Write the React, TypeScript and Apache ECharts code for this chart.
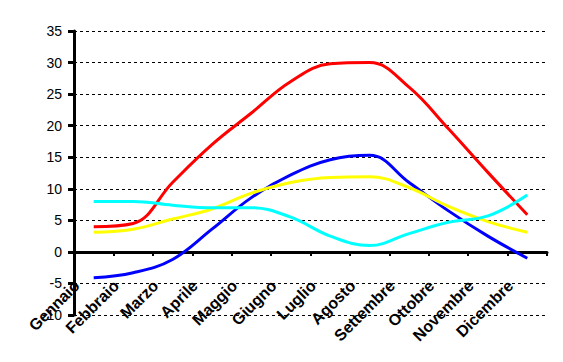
import React, { useEffect, useRef } from "react";
import * as echarts from "echarts";

const months = ["Gennaio", "Febbraio", "Marzo", "Aprile", "Maggio", "Giugno", "Luglio", "Agosto", "Settembre", "Ottobre", "Novembre", "Dicembre"];
const redSeries = [4.0, 4.5, 11.0, 17.0, 22.0, 27.0, 29.8, 30.0, 26.1, 19.5, 12.6, 5.9];
const blueSeries = [-4.1, -3.3, -1.2, 3.6, 8.6, 12.2, 14.6, 15.3, 11.0, 6.5, 2.5, -1.0];
const yellowSeries = [3.1, 3.6, 5.2, 6.8, 9.3, 11.0, 11.8, 11.9, 10.2, 7.2, 4.8, 3.1];
const cyanSeries = [8.0, 8.0, 7.4, 7.0, 7.0, 5.5, 2.5, 1.0, 2.9, 4.7, 5.7, 9.0];
const yMin = -10;
const yMax = 35;
const yStep = 5;

export default function App() {
  const ref = useRef<HTMLDivElement>(null);
  useEffect(() => {
    if (!ref.current) return;
    const chart = echarts.init(ref.current, null, { renderer: "svg" });
    const mk = (data: number[], color: string) => ({
      type: "line",
      data,
      smooth: 0.4,
      symbol: "none",
      lineStyle: { color, width: 3 },
      itemStyle: { color },
    });
    const top = 31;
    const bottom = 47;
    const plotH = 362 - top - bottom;
    const zeroOffset = Math.round(((0 - yMin) / (yMax - yMin)) * plotH);
    chart.setOption({
      animation: false,
      backgroundColor: "#ffffff",
      grid: { left: 74, right: 16, top, bottom, outerBoundsMode: "none", containLabel: false },
      xAxis: {
        type: "category",
        data: months,
        boundaryGap: true,
        offset: -zeroOffset,
        axisLine: { onZero: false, lineStyle: { color: "#000", width: 3 } },
        axisTick: { show: true, inside: false, length: 4, lineStyle: { color: "#000", width: 2 } },
        axisLabel: {
          rotate: 45,
          margin: 14,
          padding: [0, 24, 0, 0],
          interval: 0,
          color: "#000",
          fontFamily: "Liberation Sans, Arial, sans-serif",
          fontWeight: "bold",
          fontSize: 16,
        },
        splitLine: { show: false },
      },
      yAxis: {
        type: "value",
        min: yMin,
        max: yMax,
        interval: yStep,
        axisLine: { show: true, lineStyle: { color: "#000", width: 3 } },
        axisTick: { show: true, length: 6, lineStyle: { color: "#000", width: 3 } },
        axisLabel: {
          margin: 12,
          color: "#000",
          fontFamily: "Liberation Sans, Arial, sans-serif",
          fontSize: 14,
        },
        splitLine: { show: true, lineStyle: { color: "#000", type: [3, 3], width: 1 } },
      },
      series: [
        mk(redSeries, "#ff0000"),
        mk(blueSeries, "#0000ff"),
        mk(yellowSeries, "#ffff00"),
        mk(cyanSeries, "#00ffff"),
      ],
    });
    return () => chart.dispose();
  }, []);
  return <div ref={ref} style={{ width: 563, height: 362, position: "absolute", left: 0, top: 0 }} />;
}
